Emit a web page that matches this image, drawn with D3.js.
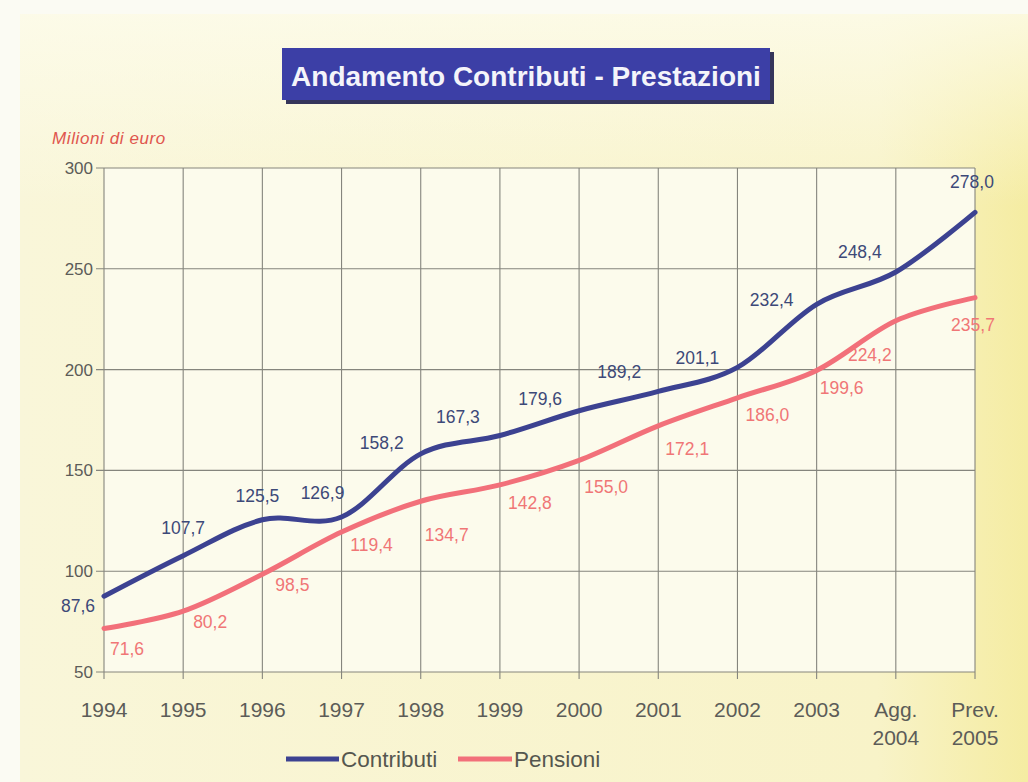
<!DOCTYPE html>
<html>
<head>
<meta charset="utf-8">
<script src="https://cdn.jsdelivr.net/npm/d3@7"></script>
<style>
  html, body { margin: 0; padding: 0; background: #fbfbf3; }
  svg { display: block; }
  text { font-family: "Liberation Sans", Arial, Helvetica, sans-serif; }
</style>
</head>
<body>
<svg id="chart" width="1028" height="782"></svg>
<script>
// ---- data ----
const categories = ["1994","1995","1996","1997","1998","1999","2000","2001","2002","2003","Agg.\n2004","Prev.\n2005"];
const contributi = [87.6,107.7,125.5,126.9,158.2,167.3,179.6,189.2,201.1,232.4,248.4,278.0];
const pensioni   = [71.6,80.2,98.5,119.4,134.7,142.8,155.0,172.1,186.0,199.6,224.2,235.7];
const yTicks = [50,100,150,200,250,300];
const seriesNames = ["Contributi","Pensioni"];
const titleText = "Andamento Contributi - Prestazioni";
const unitText = "Milioni di euro";

// label offsets (pixels, relative to the data point)
const contribDx = [-26,0,-5,-19,-39,-42,-39,-39,-40,-45,-36,-3];
const contribDy = [10,-28,-24,-24,-11,-19,-12,-19,-10,-4,-20,-30];
const pensDx = [23,27,30,30,26,30,27,29,30,25,-26,-2];
const pensDy = [20,11,11,13,34,18,27,23,17,17,34,27];

const fmt = v => v.toFixed(1).replace(".", ",");

const svg = d3.select("#chart");
const W = 1028, H = 782;
const m = {left: 104, right: 1028 - 975, top: 168, bottom: 782 - 672};

// background
const defs = svg.append("defs");
const g1 = defs.append("linearGradient").attr("id","bg").attr("x1","0").attr("x2","1").attr("y1","0").attr("y2","0");
g1.append("stop").attr("offset","0").attr("stop-color","#f9f6d9");
g1.append("stop").attr("offset","0.85").attr("stop-color","#f8f3c8");
g1.append("stop").attr("offset","1").attr("stop-color","#f5eca2");
const g2 = defs.append("linearGradient").attr("id","bgv").attr("x1","0").attr("x2","0").attr("y1","0").attr("y2","1");
g2.append("stop").attr("offset","0").attr("stop-color","#fdfcec").attr("stop-opacity",0.8);
g2.append("stop").attr("offset","0.25").attr("stop-color","#fdfcec").attr("stop-opacity",0);

svg.append("rect").attr("width",W).attr("height",H).attr("fill","#fbfbf3");
svg.append("rect").attr("x",20).attr("y",14).attr("width",W-20).attr("height",H-14).attr("fill","url(#bg)");
svg.append("rect").attr("x",20).attr("y",14).attr("width",W-20).attr("height",H-14).attr("fill","url(#bgv)");

// scales
const x = d3.scalePoint().domain(categories).range([m.left, W - m.right]);
const y = d3.scaleLinear().domain([50,300]).range([H - m.bottom, m.top]);

// plot area
svg.append("rect").attr("x", m.left).attr("y", m.top)
  .attr("width", W - m.right - m.left).attr("height", H - m.bottom - m.top)
  .attr("fill", "#fcfbec");

// title box
const tb = {x: 282, y: 48, w: 488, h: 52};
svg.append("rect").attr("x", tb.x + 4).attr("y", tb.y + 4).attr("width", tb.w).attr("height", tb.h).attr("fill", "#35355a");
svg.append("rect").attr("x", tb.x).attr("y", tb.y).attr("width", tb.w).attr("height", tb.h).attr("fill", "#3c3fa6");
svg.append("text").attr("x", tb.x + tb.w/2).attr("y", 86).attr("text-anchor","middle")
  .attr("font-size", 28).attr("font-weight","bold").attr("fill","#f4f4fa").text(titleText);

// unit label
svg.append("text").attr("x", 52).attr("y", 144).attr("font-size", 17).attr("font-style","italic")
  .attr("letter-spacing", 0.6).attr("fill", "#e0564e").text(unitText);

// grid
const grid = svg.append("g").attr("stroke", "#85857d").attr("stroke-width", 1.1);
grid.selectAll("line.h").data(yTicks).join("line")
  .attr("x1", m.left - 8).attr("x2", W - m.right).attr("y1", d => y(d)).attr("y2", d => y(d));
grid.selectAll("line.v").data(categories).join("line")
  .attr("x1", d => x(d)).attr("x2", d => x(d)).attr("y1", m.top).attr("y2", H - m.bottom + 7);

// y axis labels
svg.append("g").selectAll("text").data(yTicks).join("text")
  .attr("x", 93).attr("y", d => y(d)).attr("dy","0.35em").attr("text-anchor","end")
  .attr("font-size", 17).attr("fill", "#5c5c58").text(d => d);

// x axis labels
const xl = svg.append("g").selectAll("text").data(categories).join("text")
  .attr("x", d => x(d)).attr("y", 717).attr("text-anchor","middle")
  .attr("font-size", 21).attr("fill", "#5c5c58");
xl.each(function(d){
  const parts = d.split("\n");
  const t = d3.select(this);
  parts.forEach((p,i) => t.append("tspan").attr("x", x(d)).attr("dy", i === 0 ? 0 : 28).text(p));
});

// lines
const line = d3.line().x((d,i) => x(categories[i])).y(d => y(d)).curve(d3.curveCardinal.tension(0));
const blue = "#3c4291", red = "#f2707a";
svg.append("path").datum(pensioni).attr("d", line).attr("fill","none").attr("stroke", red)
  .attr("stroke-width", 5).attr("stroke-linecap","round");
svg.append("path").datum(contributi).attr("d", line).attr("fill","none").attr("stroke", blue)
  .attr("stroke-width", 5).attr("stroke-linecap","round");

// data labels
svg.append("g").selectAll("text").data(contributi).join("text")
  .attr("x", (d,i) => x(categories[i]) + contribDx[i]).attr("y", (d,i) => y(d) + contribDy[i])
  .attr("dy","0.35em").attr("text-anchor","middle").attr("font-size", 17.5)
  .attr("fill", "#3d4978").text(fmt);
svg.append("g").selectAll("text").data(pensioni).join("text")
  .attr("x", (d,i) => x(categories[i]) + pensDx[i]).attr("y", (d,i) => y(d) + pensDy[i])
  .attr("dy","0.35em").attr("text-anchor","middle").attr("font-size", 17.5)
  .attr("fill", "#f07676").text(fmt);

// legend
const legend = [
  {name: seriesNames[0], color: blue, x1: 286, x2: 339},
  {name: seriesNames[1], color: red, x1: 458, x2: 512}
];
const lg = svg.append("g");
legend.forEach(l => {
  lg.append("line").attr("x1", l.x1).attr("x2", l.x2).attr("y1", 759).attr("y2", 759)
    .attr("stroke", l.color).attr("stroke-width", 5);
  lg.append("text").attr("x", l.x2 + 2).attr("y", 759).attr("dy","0.36em")
    .attr("font-size", 22.5).attr("fill", "#55574f").text(l.name);
});
</script>
</body>
</html>
